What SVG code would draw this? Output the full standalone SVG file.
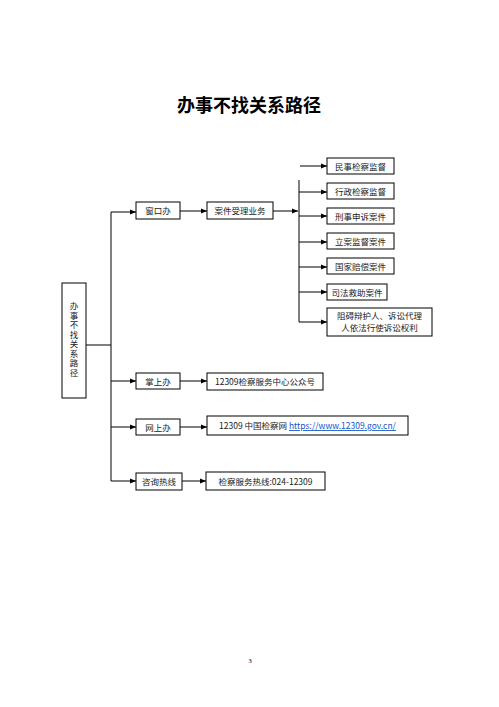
<svg xmlns="http://www.w3.org/2000/svg" width="499" height="707" viewBox="0 0 499 707">
<style>
.bx{fill:#fff;stroke:#000;stroke-width:1}
.t{font-family:"Noto Sans CJK SC","Liberation Sans",sans-serif;font-size:8.5px;fill:#222;text-anchor:middle}
.ln{stroke:#000;stroke-width:1;fill:none}
.ar{stroke:#000;stroke-width:1;fill:none;marker-end:url(#ah)}
</style>
<defs>
<marker id="ah" viewBox="0 0 6 6" refX="6" refY="3" markerWidth="6" markerHeight="6" markerUnits="userSpaceOnUse" orient="auto">
<path d="M0,0.5 L6,3 L0,5.5 Z" fill="#000"/>
</marker>
</defs>
<rect width="499" height="707" fill="#fff"/>
<text x="249" y="112" font-family="'Noto Sans CJK SC','Liberation Sans',sans-serif" font-size="18" font-weight="bold" text-anchor="middle" fill="#000">办事不找关系路径</text>

<g id="connectors">
<path class="ln" d="M86,345 H111 M111,212 V481"/>
<path class="ar" d="M111,212 H136"/>
<path class="ar" d="M111,381 H136"/>
<path class="ar" d="M111,427 H136"/>
<path class="ar" d="M111,481 H136"/>
<path class="ar" d="M180,211 H207"/>
<path class="ar" d="M273,211 H298"/>
<path class="ln" d="M299,180 V322"/>
<path class="ar" d="M300,166 H327"/>
<path class="ar" d="M299,192 H327"/>
<path class="ar" d="M299,216 H327"/>
<path class="ar" d="M299,242 H327"/>
<path class="ar" d="M299,267 H327"/>
<path class="ar" d="M299,292 H327"/>
<path class="ar" d="M299,322 H327"/>
<path class="ar" d="M180,381 H207"/>
<path class="ar" d="M180,427 H207"/>
<path class="ar" d="M182,481 H206"/>
</g>

<g id="root">
<rect class="bx" x="62" y="283" width="24" height="115"/>
<text x="74" y="340" font-family="'Noto Sans CJK SC','Liberation Sans',sans-serif" font-size="8.5" fill="#222" text-anchor="middle" style="writing-mode:vertical-rl" letter-spacing="1">办事不找关系路径</text>
</g>

<g id="n-window">
<rect class="bx" x="136" y="202" width="44" height="17"/>
<text class="t" x="158" y="214">窗口办</text>
</g>
<g id="n-accept">
<rect class="bx" x="207" y="202" width="66" height="17"/>
<text class="t" x="240" y="214">案件受理业务</text>
</g>
<g id="c1">
<rect class="bx" x="327" y="158" width="67" height="16"/>
<text class="t" x="360.5" y="169.5">民事检察监督</text>
</g>
<g id="c2">
<rect class="bx" x="327" y="183" width="67" height="16"/>
<text class="t" x="360.5" y="194.5">行政检察监督</text>
</g>
<g id="c3">
<rect class="bx" x="327" y="208" width="67" height="16"/>
<text class="t" x="360.5" y="219.5">刑事申诉案件</text>
</g>
<g id="c4">
<rect class="bx" x="327" y="233" width="67" height="16"/>
<text class="t" x="360.5" y="244.5">立案监督案件</text>
</g>
<g id="c5">
<rect class="bx" x="327" y="258" width="67" height="16"/>
<text class="t" x="360.5" y="269.5">国家赔偿案件</text>
</g>
<g id="c6">
<rect class="bx" x="327" y="284" width="60" height="16"/>
<text class="t" x="357" y="295.5">司法救助案件</text>
</g>
<g id="c7">
<rect class="bx" x="327" y="308" width="105" height="28"/>
<text class="t" x="379.5" y="319">阻碍辩护人、诉讼代理</text>
<text class="t" x="379.5" y="331">人依法行使诉讼权利</text>
</g>
<g id="n-mobile">
<rect class="bx" x="136" y="373" width="44" height="16"/>
<text class="t" x="158" y="384.5">掌上办</text>
</g>
<g id="n-mobile-t">
<rect class="bx" x="207" y="373" width="116" height="17"/>
<text class="t" x="265" y="385">12309检察服务中心公众号</text>
</g>
<g id="n-online">
<rect class="bx" x="136" y="419" width="44" height="16"/>
<text class="t" x="158" y="430.5">网上办</text>
</g>
<g id="n-online-t">
<rect class="bx" x="207" y="416" width="201" height="19"/>
<text class="t" x="307.5" y="429">12309 中国检察网 <tspan fill="#1155cc" text-decoration="underline">https://www.12309.gov.cn/</tspan></text>
</g>
<g id="n-hotline">
<rect class="bx" x="136" y="473" width="46" height="17"/>
<text class="t" x="159" y="485">咨询热线</text>
</g>
<g id="n-hotline-t">
<rect class="bx" x="206" y="472" width="119" height="18"/>
<text class="t" x="265.5" y="484.5">检察服务热线:024-12309</text>
</g>

<text x="250" y="663" font-family="'Liberation Serif',serif" font-size="7" text-anchor="middle" fill="#000">3</text>
</svg>
